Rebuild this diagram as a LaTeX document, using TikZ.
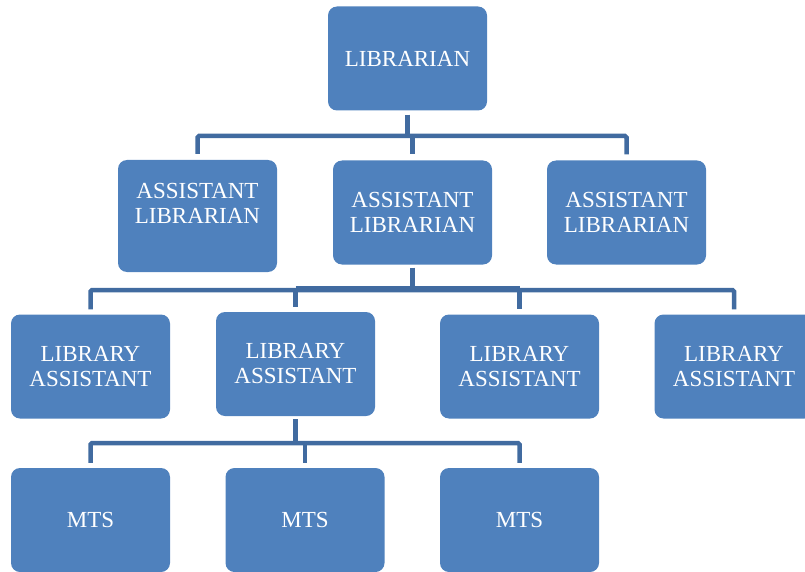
\documentclass[tikz,border=0pt]{standalone}
\usepackage{fontspec}
\setmainfont{Liberation Serif}
\usetikzlibrary{positioning}
\definecolor{boxblue}{RGB}{79,129,189}
\definecolor{lineblue}{RGB}{65,107,160}

\begin{document}
\begin{tikzpicture}[x=1pt,y=-1pt]
\tikzset{
  post/.style={fill=boxblue, rounded corners=9pt, minimum width=159pt,
    minimum height=104pt, inner sep=0pt, text=white, align=center,
    font=\fontsize{23}{25}\selectfont},
  posttext/.style={text=white, align=center, inner sep=0pt,
    font=\fontsize{23}{25}\selectfont},
  link/.style={draw=lineblue, line width=4.5pt, rounded corners=1.5pt},
}
\useasboundingbox (0,0) rectangle (805,572);

% top
\node[post] (lib) at (407.5,58.5) {LIBRARIAN};

% assistant librarians
\node[post, minimum height=112pt] (al1) at (197.5,216) {};
\node[posttext] (al1text) at ([yshift=13pt]al1.center) {ASSISTANT\\LIBRARIAN};
\node[post] (al2) at (412.5,212.5) {ASSISTANT\\LIBRARIAN};
\node[post] (al3) at (626.5,212.5) {ASSISTANT\\LIBRARIAN};

% library assistants
\node[post] (la1) at (90.5,366.5) {LIBRARY\\ASSISTANT};
\node[post] (la2) at (295.5,364) {LIBRARY\\ASSISTANT};
\node[post] (la3) at (519.5,366.5) {LIBRARY\\ASSISTANT};
\node[post] (la4) at (734,366.5) {LIBRARY\\ASSISTANT};

% mts
\node[post] (mts1) at (90.5,520) {MTS};
\node[post] (mts2) at (305,520) {MTS};
\node[post] (mts3) at (519.5,520) {MTS};

% bars
\coordinate (b1) at (407.5,136);
\coordinate (b2) at (413,290);
\coordinate (b3) at (295,443);

\draw[link, shorten <=4pt] (lib.south) -- (lib.south |- b1);
\draw[link, shorten <=6pt, shorten >=6pt] (al1.north) |- (b1) -| (al3.north);
\draw[link, shorten >=6pt] (al2.north |- b1) -- (al2.north);

\draw[link, shorten <=3pt] (al2.south) -- (al2.south |- b2);
\draw[link, shorten <=5pt, shorten >=5pt] (la1.north) |- (b2) -| (la4.north);
\draw[link] ([yshift=1.5pt]la2.north |- b2) -- ([yshift=1.5pt]la3.north |- b2);
\draw[link, shorten >=5pt] (la2.north |- b2) -- (la2.north);
\draw[link, shorten >=5pt] (la3.north |- b2) -- (la3.north);

\draw[link, shorten <=3pt] (la2.south) -- (la2.south |- b3);
\draw[link, shorten <=5pt, shorten >=5pt] (mts1.north) |- (b3) -| (mts3.north);
\draw[link, shorten >=5pt] (mts2.north |- b3) -- (mts2.north);
\end{tikzpicture}
\end{document}
